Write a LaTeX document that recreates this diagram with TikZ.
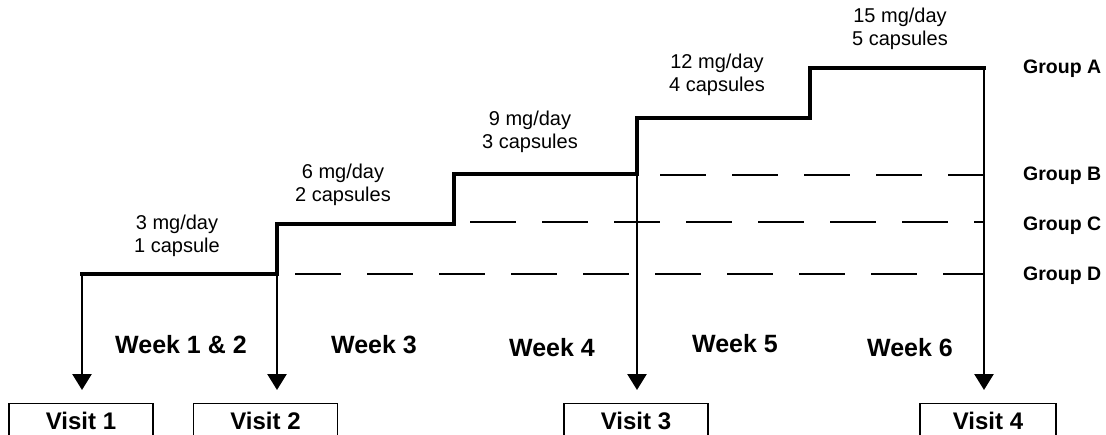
\documentclass[tikz,border=0pt]{standalone}
\usepackage{fontspec}
\setmainfont{Liberation Sans}
\usetikzlibrary{arrows.meta}
\begin{document}
\begin{tikzpicture}[x=1pt,y=-1pt,
  dose/.style={font=\fontsize{20}{23.5}\selectfont, align=center, inner sep=0pt},
  weeklbl/.style={font=\fontsize{25}{29}\selectfont\bfseries, inner sep=0pt},
  grouplbl/.style={font=\fontsize{19.5}{23}\selectfont\bfseries, inner sep=0pt, anchor=west},
  visitbox/.style={draw, line width=1.4pt, font=\fontsize{24}{28}\selectfont\bfseries,
    minimum width=144pt, minimum height=34pt, anchor=north, inner sep=0pt},
  stepline/.style={line width=4.5pt, line join=miter, line cap=rect},
  visitarrow/.style={line width=2.6pt, -{Triangle[width=19pt,length=16pt]}, shorten >=13pt},
  groupline/.style={line width=2pt, dash pattern=on 46pt off 26pt}
]
\useasboundingbox (0,0) rectangle (1106,434);
\clip (0,0) rectangle (1106,434);

% step coordinates
\coordinate (s0) at (82,274);
\coordinate (s1) at (277,274);
\coordinate (s1u) at (277,224);
\coordinate (s2) at (454,224);
\coordinate (s2u) at (454,174);
\coordinate (s3) at (637,174);
\coordinate (s3u) at (637,118);
\coordinate (s4) at (810,118);
\coordinate (s4u) at (810,68);
\coordinate (s5) at (984,68);

% group dashed lines
\coordinate (dD) at (295,274);
\coordinate (eD) at (984,274);
\coordinate (dC) at (470,222);
\coordinate (eC) at (984,222);
\coordinate (dB) at (660,175);
\coordinate (eB) at (984,175);

% visit boxes
\node[visitbox] (v1) at (81,403) {Visit 1};
\node[visitbox] (v2) at (265.5,403) {Visit 2};
\node[visitbox] (v3) at (636,403) {Visit 3};
\node[visitbox, minimum width=136pt] (v4) at (988,403) {Visit 4};

% dashed group lines
\draw[groupline] (dD) -- (eD);
\draw[groupline] (dC) -- (eC);
\draw[groupline] (dB) -- (eB);

% arrows to visits
\draw[visitarrow] (s0) -- (s0 |- v1.north);
\draw[visitarrow] (s1) -- (s1 |- v2.north);
\draw[visitarrow] (s3) -- (s3 |- v3.north);
\draw[visitarrow] (s5) -- (s5 |- v4.north);

% step line
\draw[stepline] (s0) -- (s1) -- (s1u) -- (s2) -- (s2u) -- (s3) -- (s3u) -- (s4) -- (s4u) -- (s5);

% dose labels
\node[dose] (d1) at (177,236) {3 mg/day\\1 capsule};
\node[dose] (d2) at (343,185) {6 mg/day\\2 capsules};
\node[dose] (d3) at (530,132) {9 mg/day\\3 capsules};
\node[dose] (d4) at (717,75) {12 mg/day\\4 capsules};
\node[dose] (d5) at (900,29) {15 mg/day\\5 capsules};

% week labels
\node[weeklbl] (w12) at (181,345) {Week 1 \& 2};
\node[weeklbl] (w3) at (374,345) {Week 3};
\node[weeklbl] (w4) at (552,348) {Week 4};
\node[weeklbl] (w5) at (735,344) {Week 5};
\node[weeklbl] (w6) at (910,348) {Week 6};

% group labels
\node[grouplbl] (gA) at (1023,69) {Group A};
\node[grouplbl] (gB) at (1023,176) {Group B};
\node[grouplbl] (gC) at (1023,226) {Group C};
\node[grouplbl] (gD) at (1023,276) {Group D};
\end{tikzpicture}
\end{document}
